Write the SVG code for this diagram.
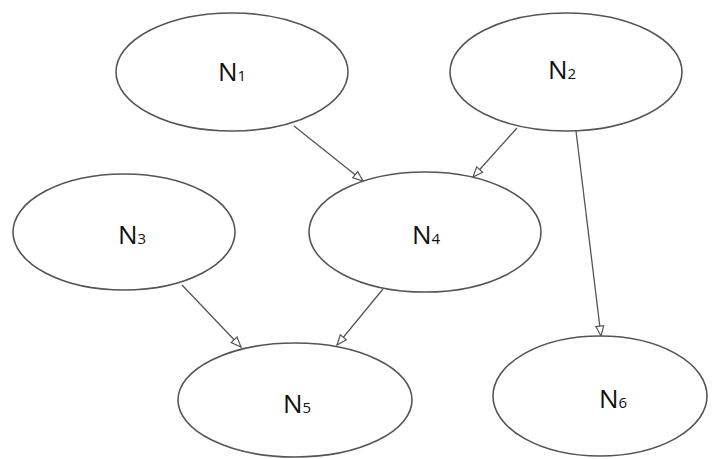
<svg xmlns="http://www.w3.org/2000/svg" width="719" height="459" viewBox="0 0 719 459">
<style>
.node ellipse{fill:#fff;stroke:#555;stroke-width:1.6}
.node text{font-family:"Open Sans","Liberation Sans",sans-serif;font-size:26px;fill:#111;text-anchor:middle}
.node tspan{font-size:15px}
.edge{stroke:#555;stroke-width:1.3;fill:none;marker-end:url(#arr)}
</style>
<defs>
<marker id="arr" viewBox="0 0 12 10" refX="11" refY="5" markerWidth="12" markerHeight="10" markerUnits="userSpaceOnUse" orient="auto">
<path d="M1,1 L11,5 L1,9 Z" fill="#fff" stroke="#555" stroke-width="1.2"/>
</marker>
</defs>
<rect width="719" height="459" fill="#fff"/>
<g id="connectors">
<line class="edge" x1="294" y1="126" x2="363" y2="181"/>
<line class="edge" x1="517" y1="128" x2="473" y2="177"/>
<line class="edge" x1="576" y1="131" x2="601" y2="336"/>
<line class="edge" x1="182" y1="285" x2="241" y2="347"/>
<line class="edge" x1="383" y1="289" x2="337" y2="345"/>
</g>
<g id="N1" class="node"><ellipse cx="232" cy="72" rx="116" ry="59"/><text x="232" y="81">N<tspan>1</tspan></text></g>
<g id="N2" class="node"><ellipse cx="566" cy="72" rx="116" ry="59"/><text x="562" y="79">N<tspan>2</tspan></text></g>
<g id="N3" class="node"><ellipse cx="124" cy="232" rx="111" ry="58"/><text x="132" y="244">N<tspan>3</tspan></text></g>
<g id="N4" class="node"><ellipse cx="425" cy="232" rx="116" ry="60"/><text x="426" y="244">N<tspan>4</tspan></text></g>
<g id="N5" class="node"><ellipse cx="295" cy="400" rx="117" ry="57"/><text x="297" y="413">N<tspan>5</tspan></text></g>
<g id="N6" class="node"><ellipse cx="600" cy="396" rx="107" ry="60"/><text x="613" y="408">N<tspan>6</tspan></text></g>
</svg>
